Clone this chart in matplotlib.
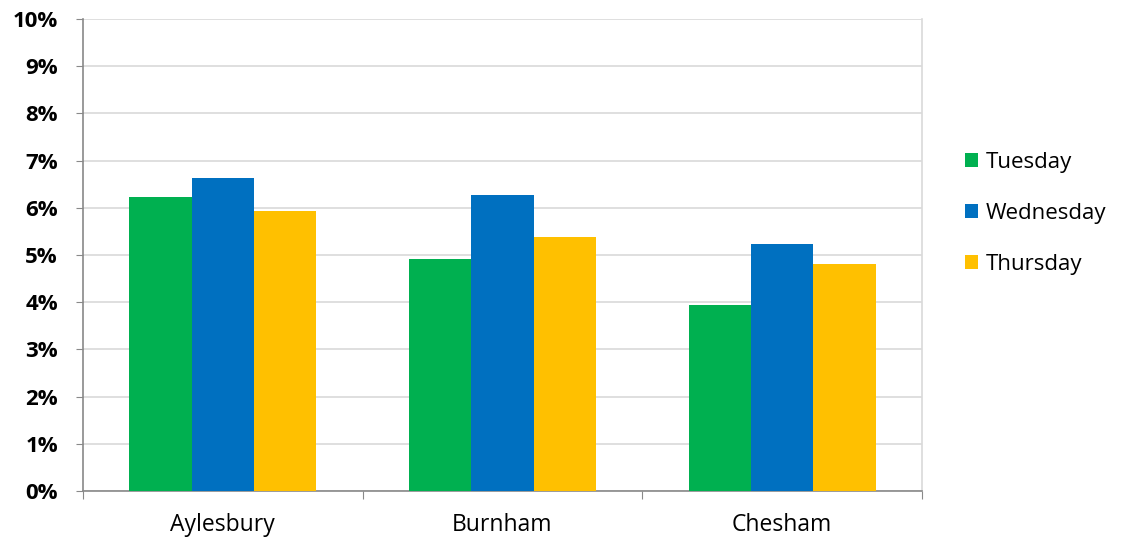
import matplotlib.pyplot as plt
import numpy as np

towns = ["Aylesbury", "Burnham", "Chesham"]
days = ["Tuesday", "Wednesday", "Thursday"]
tuesday = [6.22, 4.92, 3.94]
wednesday = [6.64, 6.27, 5.23]
thursday = [5.93, 5.39, 4.82]
colors = ["#00B050", "#0070C0", "#FFC000"]

fig = plt.figure(figsize=(11.21, 5.43), dpi=100)
ax = fig.add_axes([0.074, 0.0958, 0.7485, 0.869])

x = np.arange(len(towns))
w = 0.2225
for i, (vals, col, lab) in enumerate(zip([tuesday, wednesday, thursday], colors, days)):
    ax.bar(x + (i - 1) * w, vals, width=w, color=col, label=lab, zorder=3)

ax.set_xlim(-0.5, 2.5)
ax.set_ylim(0, 10)
ax.set_yticks(range(0, 11))
ax.set_yticklabels([f"{v}%" for v in range(0, 11)], fontweight="bold",
                   fontsize=16, family="Open Sans")
ax.yaxis.grid(True, color="#d9d9d9", linewidth=1.2, zorder=0)

# category labels in the middle, tick marks at the boundaries
ax.set_xticks([-0.5, 0.5, 1.5, 2.5])
ax.set_xticklabels([])
ax.set_xticks(x, minor=True)
ax.set_xticklabels(towns, minor=True, fontsize=16.5, family="Open Sans")
ax.tick_params(axis="x", which="minor", length=0, pad=16)
ax.tick_params(axis="x", which="major", length=6, color="#898989", direction="out")
ax.tick_params(axis="y", length=5, color="#898989", pad=13)

for s in ["left", "bottom"]:
    ax.spines[s].set_color("#898989")
    ax.spines[s].set_linewidth(1.2)
ax.spines["top"].set_visible(False)
ax.spines["right"].set_color("#d9d9d9")
ax.spines["right"].set_linewidth(1.2)

fig.legend(loc="center left", bbox_to_anchor=(0.843, 0.607), frameon=False,
           prop={"family": "Open Sans", "size": 16}, handlelength=0.6,
           handleheight=0.6, handletextpad=0.35, labelspacing=1.35)

fig.savefig("out.png", dpi=100)
